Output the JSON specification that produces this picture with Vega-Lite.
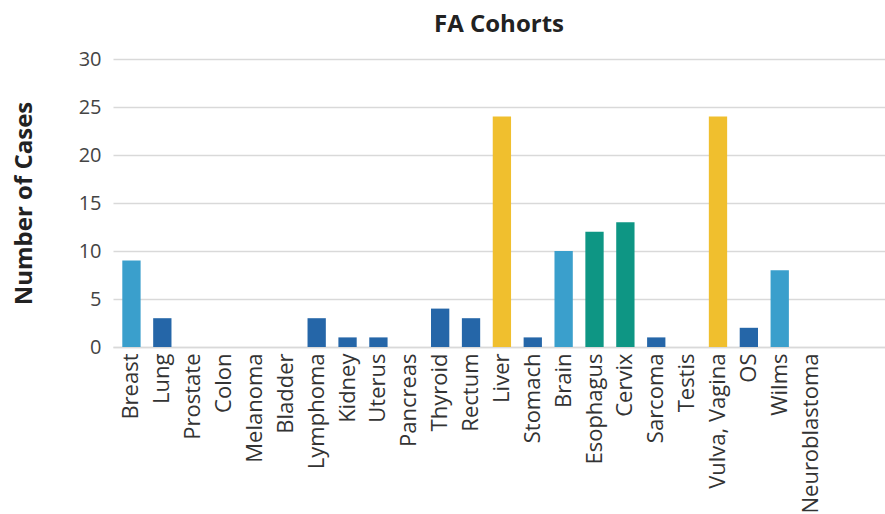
{
  "$schema": "https://vega.github.io/schema/vega-lite/v6.json",
  "width": 772,
  "height": 288,
  "autosize": "none",
  "padding": {"left": 113, "top": 59, "right": 0, "bottom": 167},
  "background": "white",
  "title": {"text": "FA Cohorts", "font": "Open Sans", "fontSize": 24, "fontWeight": "bold", "color": "#222222", "offset": 12, "anchor": "middle"},
  "data": {"values": [
    {"site": "Breast", "cases": 9, "group": "a"},
    {"site": "Lung", "cases": 3, "group": "b"},
    {"site": "Prostate", "cases": 0, "group": "b"},
    {"site": "Colon", "cases": 0, "group": "b"},
    {"site": "Melanoma", "cases": 0, "group": "b"},
    {"site": "Bladder", "cases": 0, "group": "b"},
    {"site": "Lymphoma", "cases": 3, "group": "b"},
    {"site": "Kidney", "cases": 1, "group": "b"},
    {"site": "Uterus", "cases": 1, "group": "b"},
    {"site": "Pancreas", "cases": 0, "group": "b"},
    {"site": "Thyroid", "cases": 4, "group": "b"},
    {"site": "Rectum", "cases": 3, "group": "b"},
    {"site": "Liver", "cases": 24, "group": "c"},
    {"site": "Stomach", "cases": 1, "group": "b"},
    {"site": "Brain", "cases": 10, "group": "a"},
    {"site": "Esophagus", "cases": 12, "group": "d"},
    {"site": "Cervix", "cases": 13, "group": "d"},
    {"site": "Sarcoma", "cases": 1, "group": "b"},
    {"site": "Testis", "cases": 0, "group": "b"},
    {"site": "Vulva, Vagina", "cases": 24, "group": "c"},
    {"site": "OS", "cases": 2, "group": "b"},
    {"site": "Wilms", "cases": 8, "group": "a"},
    {"site": "Neuroblastoma", "cases": 0, "group": "b"}
  ]},
  "mark": {"type": "bar"},
  "encoding": {
    "x": {
      "field": "site", "type": "nominal", "sort": null,
      "scale": {
        "domain": ["Breast", "Lung", "Prostate", "Colon", "Melanoma", "Bladder", "Lymphoma", "Kidney", "Uterus", "Pancreas", "Thyroid", "Rectum", "Liver", "Stomach", "Brain", "Esophagus", "Cervix", "Sarcoma", "Testis", "Vulva, Vagina", "OS", "Wilms", "Neuroblastoma", " "],
        "paddingInner": 0.407, "paddingOuter": 0.7075, "align": 0.213, "round": false
      },
      "axis": {"title": null, "labelAngle": -90, "labelFont": "Open Sans", "labelFontSize": 22, "labelColor": "#333333", "ticks": false, "domain": true, "domainColor": "#d9d9d9", "domainWidth": 1.5, "labelPadding": 6}
    },
    "y": {
      "field": "cases", "type": "quantitative",
      "scale": {"domain": [0, 30]},
      "axis": {"title": "Number of Cases", "titleFont": "Open Sans", "titleFontSize": 24, "titleFontWeight": "bold", "titleColor": "#222222", "titlePadding": 42, "values": [0, 5, 10, 15, 20, 25, 30], "labelFont": "Open Sans", "labelFontSize": 20, "labelColor": "#444444", "labelPadding": 12, "ticks": false, "domain": false, "gridColor": "#d9d9d9", "gridWidth": 1.5}
    },
    "color": {
      "field": "group", "type": "nominal", "legend": null,
      "scale": {"domain": ["a", "b", "c", "d"], "range": ["#3a9fcc", "#2566a8", "#f0bf2e", "#0e9684"]}
    }
  },
  "config": {"view": {"stroke": null}}
}
